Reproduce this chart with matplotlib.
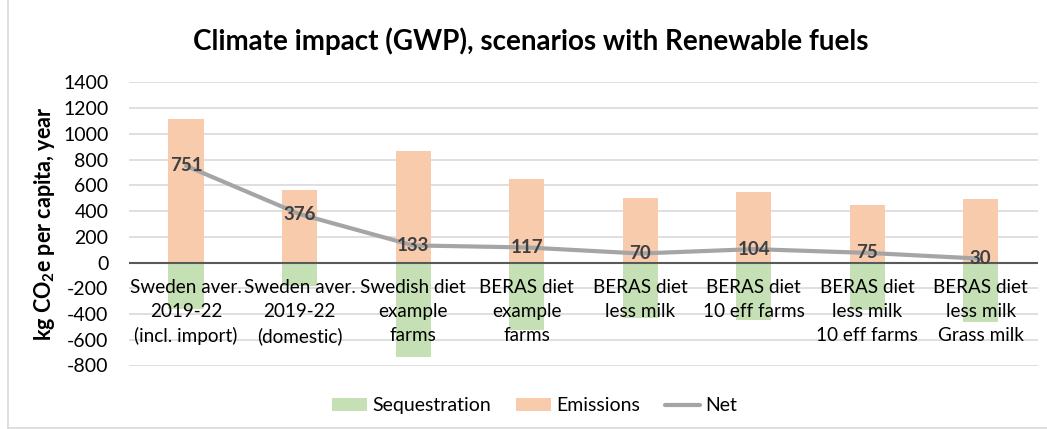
import matplotlib
matplotlib.use("Agg")
import matplotlib.pyplot as plt
from matplotlib.lines import Line2D
from matplotlib.transforms import offset_copy
import numpy as np

plt.rcParams['font.family'] = ['Lato', 'DejaVu Sans']
plt.rcParams['mathtext.fontset'] = 'custom'
plt.rcParams['mathtext.rm'] = 'Lato'
plt.rcParams['mathtext.bf'] = 'Lato:bold'

categories = [
    "Sweden aver.\n2019-22\n(incl. import)",
    "Sweden aver.\n2019-22\n(domestic)",
    "Swedish diet\nexample\nfarms",
    "BERAS diet\nexample\nfarms",
    "BERAS diet\nless milk",
    "BERAS diet\n10 eff farms",
    "BERAS diet\nless milk\n10 eff farms",
    "BERAS diet\nless milk\nGrass milk",
]
emissions = [1115, 560, 870, 645, 502, 548, 445, 495]
sequestration = [-364, -184, -737, -528, -432, -444, -370, -465]
net = [751, 376, 133, 117, 70, 104, 75, 30]
yticks = list(range(-800, 1401, 200))

W, H = 1047, 429
fig = plt.figure(figsize=(W / 100, H / 100), dpi=100)
ax = fig.add_axes([129.3 / W, 1 - 365.5 / H, (1037.5 - 129.3) / W, (365.5 - 82.3) / H])

x = np.arange(len(categories))
bw = 0.31
h_seq = ax.bar(x, sequestration, width=bw, color="#C5E0B4", label="Sequestration", zorder=2)
h_em = ax.bar(x, emissions, width=bw, color="#F8CBAD", label="Emissions", zorder=2)
ax.axhline(0, color="#595959", lw=1.5, zorder=3)
h_net, = ax.plot(x, net, color="#A5A5A5", lw=3, label="Net", zorder=4, solid_capstyle="round")

for xi, v in zip(x, net):
    ax.text(xi, v, f"{v}", ha="center", va="center", fontsize=13.5, fontweight="bold",
            color="#404040", zorder=5)

# category labels sit just under the zero line
lab_tr = offset_copy(ax.transData, fig=fig, x=0, y=-16, units="dots")
for xi, lab in zip(x, categories):
    ax.text(xi, 0, lab, ha="center", va="top", fontsize=13.6, color="black",
            transform=lab_tr, linespacing=1.5, zorder=6)

ax.set_xlim(-0.5, len(categories) - 0.5)
ax.set_ylim(-800, 1400)
ax.set_yticks(yticks)
ax.set_yticklabels([str(t) for t in yticks], fontsize=14)
ax.set_xticks([])
ax.tick_params(axis="y", length=0, pad=15)
ax.yaxis.grid(True, color="#D9D9D9", lw=1.2, zorder=0)
ax.set_axisbelow(True)
for s in ax.spines.values():
    s.set_visible(False)

fig.text(45 / W, 1 - 224 / H, r"kg CO$_\mathbf{2}$e per capita, year", rotation=90,
         ha="center", va="center", fontsize=15.5, fontweight="bold")
fig.text(531 / W, 1 - 50 / H, "Climate impact (GWP), scenarios with Renewable fuels",
         ha="center", va="baseline", fontsize=20, fontweight="bold")

fig.legend([h_seq, h_em, h_net], ["Sequestration", "Emissions", "Net"], loc="center",
           bbox_to_anchor=(534.5 / W, 1 - 405.7 / H),
           ncol=3, frameon=False, fontsize=14, handlelength=1.8, handleheight=0.6,
           handletextpad=0.25, columnspacing=1.3)

# chart area border
fig.add_artist(Line2D([7.5 / W, 7.5 / W], [0, 1], color="#D9D9D9", lw=1.2))
fig.add_artist(Line2D([7.5 / W, 1], [1 - 427.5 / H, 1 - 427.5 / H], color="#D9D9D9", lw=1.2))

fig.savefig("out.png", dpi=100)
